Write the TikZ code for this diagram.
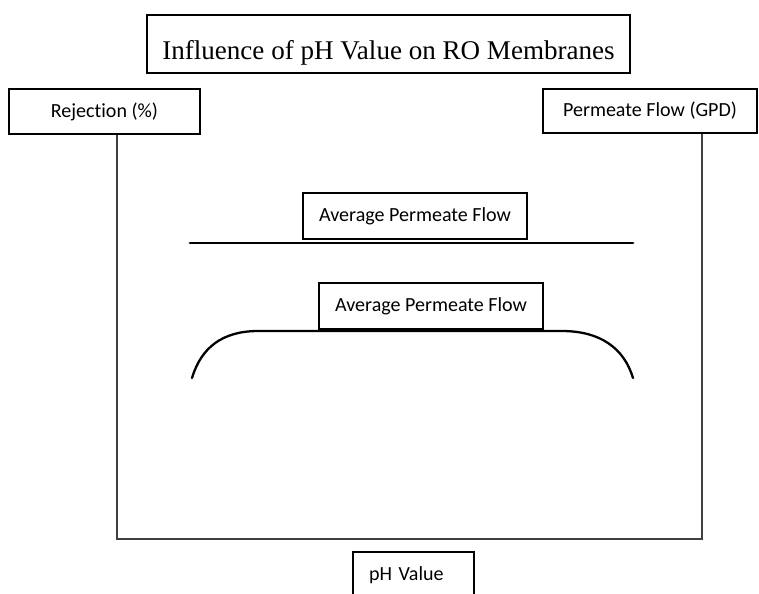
\documentclass[tikz,border=0pt]{standalone}
\usepackage{fontspec}
\setmainfont{Liberation Serif}
\newfontfamily\labelfont[Ligatures=NoCommon]{Carlito}
\begin{document}
\begin{tikzpicture}[x=0.02cm,y=-0.02cm,
  box/.style={draw,line width=0.85pt,inner sep=0pt,font=\labelfont\fontsize{11.4}{13}\selectfont},
  axis/.style={line width=1.1pt,black!75},
  flow/.style={line width=1.3pt,line cap=round}]
\useasboundingbox (0,0) rectangle (759,593);

\node[box,minimum width=9.66cm,text height=25.6pt,text depth=7.4pt,font=\fontsize{15.4}{18}\selectfont] (title) at (388.5,44) {Influence of pH Value on RO Membranes};

\node[box,minimum width=3.82cm,minimum height=0.9cm] (rej) at (104.5,111.5) {Rejection (\%)};
\node[box,minimum width=4.28cm,minimum height=0.88cm] (perm) at (650,111) {Permeate Flow (GPD)};

\node[box,minimum width=4.48cm,minimum height=0.92cm] (avg1) at (415,216) {Average Permeate Flow};
\node[box,minimum width=4.48cm,minimum height=0.92cm] (avg2) at (431,306) {Average Permeate Flow};

\node[box,text width=1.78cm,inner xsep=0.32cm,minimum height=0.92cm,align=left] (ph) at (413.5,575) {pH Value};

% axes
\coordinate (bl) at (117,539);
\coordinate (br) at (702,539);
\draw[axis] (rej.south -| bl) -- (bl) -- (br) -- (perm.south -| br);

% flow lines
\coordinate (l1) at (190,243);
\coordinate (l2) at (633,243);
\draw[flow,line width=1.6pt] (l1) -- (l2);

\coordinate (c1) at (192,378);
\coordinate (c2) at (633,378);
\draw[flow] (c1) .. controls (201,348) and (222,331) .. (258,331) -- (562,331) .. controls (600,331) and (624,348) .. (c2);
\end{tikzpicture}
\end{document}
